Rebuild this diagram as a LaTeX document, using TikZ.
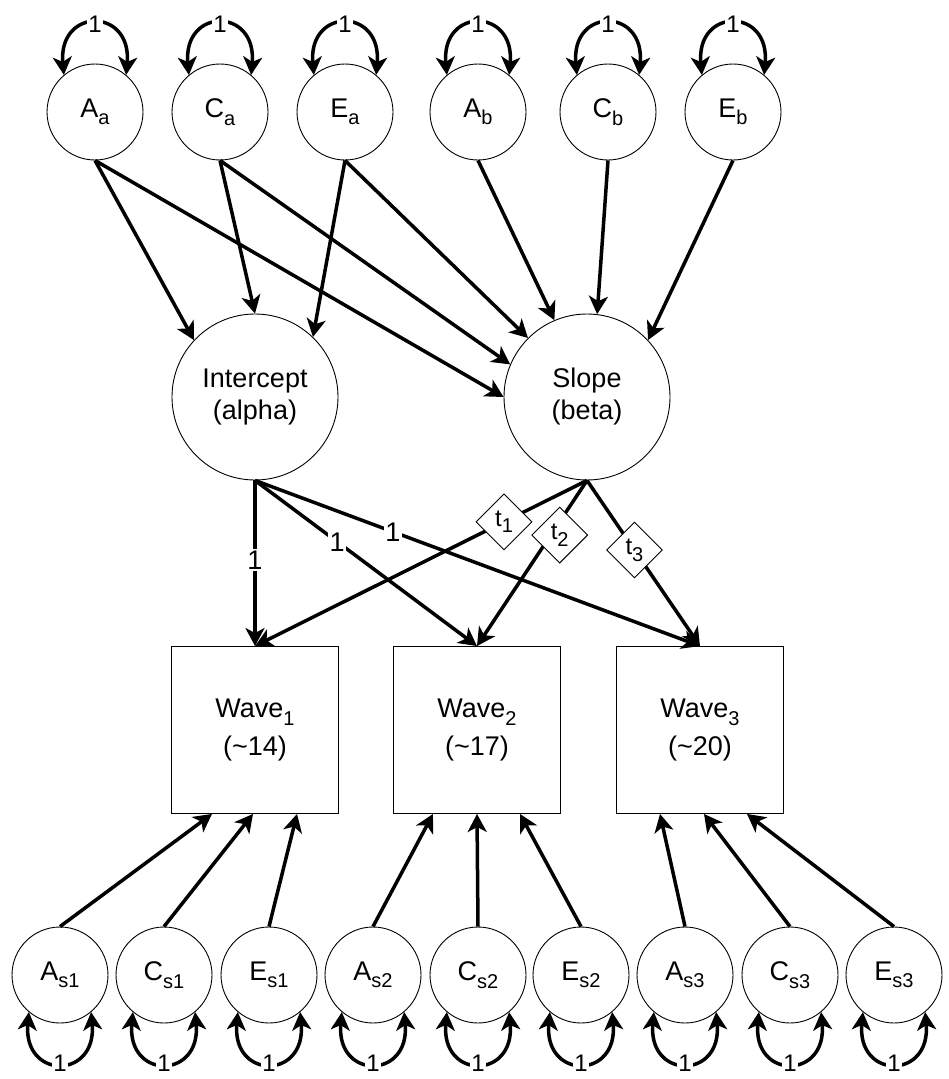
\documentclass[tikz,border=0pt]{standalone}
\usepackage{fontspec}
\setmainfont{Liberation Sans}
\usetikzlibrary{arrows.meta,shapes.geometric}
\newcommand{\mysub}[1]{\raisebox{-0.28em}{\fontsize{20}{20}\selectfont #1}}
\begin{document}
\begin{tikzpicture}[x=1pt,y=-1pt,
 lat/.style={circle,draw,line width=0.9pt,minimum size=96pt,inner sep=0pt,font=\fontsize{27}{30}\selectfont},
 big/.style={circle,draw,line width=0.9pt,minimum size=166pt,inner sep=0pt,align=center,font=\fontsize{27}{32}\selectfont},
 obs/.style={rectangle,draw,line width=0.9pt,minimum width=167pt,minimum height=167pt,inner sep=0pt,align=center,font=\fontsize{27}{38}\selectfont},
 arr/.style={line width=3.5pt,-{Stealth[length=18pt,width=19pt,inset=5pt]}},
 dbl/.style={line width=3.5pt,{Stealth[length=18pt,width=19pt,inset=5pt]}-{Stealth[length=18pt,width=19pt,inset=5pt]}},
 one/.style={fill=white,inner sep=1.5pt,font=\fontsize{27}{27}\selectfont},
 lone/.style={fill=white,inner sep=1.5pt,font=\fontsize{24}{24}\selectfont},
 tlab/.style={diamond,draw,fill=white,line width=0.9pt,inner sep=0pt,minimum width=56pt,minimum height=56pt,font=\fontsize{24}{24}\selectfont}
]
\useasboundingbox (0,0) rectangle (948,1079);
% top latent factors
\node[lat] (Aa) at (95,112) {A\mysub{a}};
\node[lat] (Ca) at (220,112) {C\mysub{a}};
\node[lat] (Ea) at (345,112) {E\mysub{a}};
\node[lat] (Ab) at (478,112) {A\mysub{b}};
\node[lat] (Cb) at (608,112) {C\mysub{b}};
\node[lat] (Eb) at (733,112) {E\mysub{b}};
% growth factors
\node[big] (I) at (255,397) {Intercept\\(alpha)};
\node[big] (S) at (587,397) {Slope\\(beta)};
% waves
\node[obs] (W1) at (255,730) {Wave\mysub{1}\\(\textasciitilde14)};
\node[obs] (W2) at (477,730) {Wave\mysub{2}\\(\textasciitilde17)};
\node[obs] (W3) at (700,730) {Wave\mysub{3}\\(\textasciitilde20)};
% bottom latent factors
\node[lat] (As1) at (60,975) {A\mysub{s1}};
\node[lat] (Cs1) at (164,975) {C\mysub{s1}};
\node[lat] (Es1) at (269,975) {E\mysub{s1}};
\node[lat] (As2) at (373,975) {A\mysub{s2}};
\node[lat] (Cs2) at (478,975) {C\mysub{s2}};
\node[lat] (Es2) at (581,975) {E\mysub{s2}};
\node[lat] (As3) at (685,975) {A\mysub{s3}};
\node[lat] (Cs3) at (790,975) {C\mysub{s3}};
\node[lat] (Es3) at (894,975) {E\mysub{s3}};
% variance loops
\foreach \n in {Aa,Ca,Ea,Ab,Cb,Eb}
  \draw[dbl] (\n.130) .. controls +(95:68pt) and +(85:68pt) .. node[lone]{1} (\n.50);
\foreach \n in {As1,Cs1,Es1,As2,Cs2,Es2,As3,Cs3,Es3}
  \draw[dbl] (\n.-130) .. controls +(-95:68pt) and +(-85:68pt) .. node[lone]{1} (\n.-50);
% top paths
\draw[arr] (Aa.south) -- (I.137);
\draw[arr] (Ca.south) -- (I.north);
\draw[arr] (Ea.south) -- (I.46);
\draw[arr] (Aa.south) -- (S.west);
\draw[arr] (Ca.south) -- (S.157);
\draw[arr] (Ea.south) -- (S.135);
\draw[arr] (Ab.south) -- (S.113);
\draw[arr] (Cb.south) -- (S.83);
\draw[arr] (Eb.south) -- (S.43);
% loadings
\draw[arr] (I.south) -- node[one,pos=0.48]{1} (W1.north);
\draw[arr] (I.south) -- node[one,pos=0.37]{1} (W2.north);
\draw[arr] (I.south) -- node[one,pos=0.31]{1} (W3.north);
\draw[arr] (S.south) -- node[tlab,pos=0.25]{t\mysub{1}} (W1.north);
\draw[arr] (S.south) -- node[tlab,pos=0.33,xshift=9pt]{t\mysub{2}} (W2.north);
\draw[arr] (S.south) -- node[tlab,pos=0.42]{t\mysub{3}} (W3.north);
% bottom paths
\draw[arr] (As1.north) -- ([xshift=-43pt]W1.south);
\draw[arr] (Cs1.north) -- ([xshift=-2pt]W1.south);
\draw[arr] (Es1.north) -- ([xshift=42pt]W1.south);
\draw[arr] (As2.north) -- ([xshift=-44pt]W2.south);
\draw[arr] (Cs2.north) -- (W2.south);
\draw[arr] (Es2.north) -- ([xshift=43pt]W2.south);
\draw[arr] (As3.north) -- ([xshift=-40pt]W3.south);
\draw[arr] (Cs3.north) -- ([xshift=4pt]W3.south);
\draw[arr] (Es3.north) -- ([xshift=47pt]W3.south);
\end{tikzpicture}
\end{document}
